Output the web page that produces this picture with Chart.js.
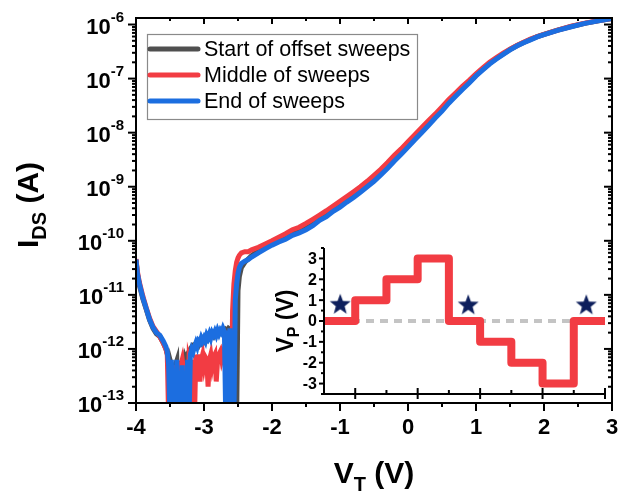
<!DOCTYPE html>
<html>
<head>
<meta charset="utf-8">
<script src="https://cdn.jsdelivr.net/npm/chart.js@4.4.1/dist/chart.umd.min.js"></script>
<style>
  body { margin: 0; background: #fff; }
  #wrap { position: relative; width: 621px; height: 493px; }
  #wrap canvas { position: absolute; left: 0; top: 0; }
</style>
</head>
<body>
<div id="wrap">
  <canvas id="mainChart" width="621" height="493"></canvas>
  <canvas id="insetChart" width="621" height="493"></canvas>
</div>
<script>
'use strict';

const FONT = "'Liberation Sans', Arial, sans-serif";

// gate voltage V_T (V), shared by the three sweeps
let vT = [
  -4.00, -3.98, -3.95, -3.90, -3.85, -3.80, -3.75, -3.70, -3.65, -3.60, -3.56,
  -3.54, -3.52, -3.50, -3.48, -3.46, -3.44, -3.42, -3.40, -3.38, -3.36, -3.34, -3.32, -3.30, -3.28, -3.26, -3.24, -3.22, -3.20,
  -3.18, -3.16, -3.14, -3.12, -3.10, -3.08, -3.06, -3.04, -3.02, -3.00, -2.98, -2.96, -2.94, -2.92, -2.90, -2.88, -2.86, -2.84,
  -2.82, -2.80, -2.78, -2.76, -2.74, -2.72, -2.70, -2.68, -2.66, -2.64, -2.62, -2.60, -2.58, -2.56, -2.54, -2.52, -2.50,
  -2.48, -2.45, -2.40, -2.35, -2.30, -2.2, -2.1, -2.0, -1.9, -1.8, -1.7, -1.6, -1.5, -1.4, -1.3, -1.2, -1.1, -1.0,
  -0.9, -0.8, -0.7, -0.6, -0.5, -0.4, -0.3, -0.2, -0.1, 0, 0.1, 0.2, 0.3, 0.4, 0.5, 0.6, 0.7, 0.8, 0.9, 1.0,
  1.1, 1.2, 1.3, 1.4, 1.5, 1.6, 1.7, 1.8, 1.9, 2.0, 2.2, 2.4, 2.6, 2.8, 3.0
];

// I_DS (A) for each sweep
let startSweep = [
  4.4e-11, 2.4e-11, 1.5e-11, 8.5e-12, 5.4e-12, 3.4e-12, 2.4e-12, 1.9e-12, 1.7e-12, 1.3e-12, 1.0e-12,
  8e-13, 6e-13, 5e-14, 5e-13, 4e-13, 5e-14, 5e-13, 6e-13, 5e-14, 4e-13, 6e-13, 5e-14, 5e-13, 7e-13, 6e-13, 8e-13, 9e-13, 1e-12,
  1.1e-12, 1e-12, 1.2e-12, 1.2e-12, 1.3e-12, 1.2e-12, 1.4e-12, 1.3e-12, 1.5e-12, 1.4e-12, 1.6e-12, 1.5e-12, 1.7e-12, 1.6e-12, 1.7e-12, 1.8e-12, 1.7e-12, 1.9e-12,
  1.8e-12, 2e-12, 1.9e-12, 2.1e-12, 2e-12, 2.2e-12, 2.1e-12, 2.3e-12, 2.2e-12, 2.4e-12, 2.3e-12, 2.4e-12, 2.3e-12, 2.5e-12, 2.4e-12, 5e-14, 1.2e-11,
  2.2e-11, 3.2e-11, 4e-11, 4.6e-11, 5.3e-11, 6.5e-11, 7.6e-11, 8.9e-11, 1.02e-10, 1.15e-10, 1.35e-10, 1.5e-10, 1.75e-10, 2.1e-10, 2.6e-10, 3.1e-10, 3.8e-10, 4.6e-10,
  5.7e-10, 6.9e-10, 8.6e-10, 1.08e-9, 1.38e-9, 1.8e-9, 2.4e-9, 3.3e-9, 4.4e-9, 5.9e-9, 8e-9, 1.08e-8, 1.45e-8, 1.98e-8, 2.7e-8, 3.7e-8, 5e-8, 6.7e-8, 8.7e-8, 1.16e-7,
  1.5e-7, 1.92e-7, 2.35e-7, 2.85e-7, 3.45e-7, 4.05e-7, 4.65e-7, 5.3e-7, 5.95e-7, 6.55e-7, 7.85e-7, 9.2e-7, 1.05e-6, 1.17e-6, 1.29e-6
];
let middleSweep = [
  4.6e-11, 2.7e-11, 1.7e-11, 9.5e-12, 5.8e-12, 3.7e-12, 2.6e-12, 2.1e-12, 1.7e-12, 1.3e-12, 1.0e-12,
  7.9e-13, 5e-14, 5e-13, 5e-14, 3.2e-13, 5e-13, 5e-14, 4e-13, 2.5e-13, 5e-14, 5e-13, 6.3e-13, 4e-13, 5e-14, 5e-13, 5e-14, 6.3e-13, 5e-13,
  5e-14, 6.3e-13, 5e-14, 7.9e-13, 5e-13, 7.9e-13, 2.5e-13, 6.3e-13, 7.9e-13, 5e-13, 7e-13, 6.3e-13, 2e-13, 6.3e-13, 7.9e-13, 5e-13, 7e-13, 7.9e-13,
  2.5e-13, 6.3e-13, 7.9e-13, 8.9e-13, 6.3e-13, 7.9e-13, 6.3e-13, 7.9e-13, 5e-14, 1e-12, 7.9e-13, 5e-14, 5e-12, 1.6e-11, 2.8e-11, 4e-11, 4.8e-11,
  5.4e-11, 6e-11, 6.3e-11, 6.3e-11, 6.8e-11, 7.6e-11, 8.7e-11, 1e-10, 1.17e-10, 1.35e-10, 1.6e-10, 1.78e-10, 2.1e-10, 2.5e-10, 3e-10, 3.6e-10, 4.4e-10, 5.4e-10,
  6.6e-10, 8.1e-10, 1e-9, 1.26e-9, 1.62e-9, 2.1e-9, 2.8e-9, 3.8e-9, 5e-9, 6.8e-9, 9.1e-9, 1.23e-8, 1.66e-8, 2.2e-8, 3e-8, 4.1e-8, 5.4e-8, 7.2e-8, 9.3e-8, 1.23e-7,
  1.58e-7, 2e-7, 2.45e-7, 2.95e-7, 3.5e-7, 4.1e-7, 4.7e-7, 5.4e-7, 6e-7, 6.6e-7, 7.9e-7, 9.3e-7, 1.06e-6, 1.18e-6, 1.3e-6
];
let endSweep = [
  4.5e-11, 2.5e-11, 1.6e-11, 8.9e-12, 5.6e-12, 3.5e-12, 2.5e-12, 2.0e-12, 1.8e-12, 1.4e-12, 1.1e-12,
  8.9e-13, 5e-13, 5e-14, 6.3e-13, 5e-14, 4e-13, 5e-14, 6.3e-13, 5e-14, 2.5e-13, 5e-14, 5e-13, 5e-14, 3.2e-13, 5e-14, 6.3e-13, 5e-14, 7.9e-13,
  1e-12, 8.9e-13, 1.1e-12, 1.3e-12, 1.1e-12, 1.4e-12, 1.3e-12, 1.6e-12, 1.4e-12, 1.6e-12, 1.4e-12, 1.8e-12, 1.6e-12, 1.9e-12, 1.6e-12, 2.0e-12, 1.8e-12, 2.1e-12,
  1.8e-12, 2.2e-12, 1.9e-12, 2.2e-12, 2.0e-12, 2.4e-12, 2.1e-12, 5e-14, 2.2e-12, 5e-14, 2.4e-12, 5e-14, 2.2e-12, 5e-14, 7.9e-12, 1.6e-11, 2.5e-11,
  3.2e-11, 3.8e-11, 4.2e-11, 4.5e-11, 5e-11, 6e-11, 7.1e-11, 8.3e-11, 9.5e-11, 1.07e-10, 1.26e-10, 1.4e-10, 1.6e-10, 1.9e-10, 2.4e-10, 2.8e-10, 3.5e-10, 4.2e-10,
  5.2e-10, 6.3e-10, 7.9e-10, 1.0e-9, 1.26e-9, 1.66e-9, 2.2e-9, 3.0e-9, 4.0e-9, 5.4e-9, 7.4e-9, 1.0e-8, 1.35e-8, 1.86e-8, 2.5e-8, 3.5e-8, 4.7e-8, 6.3e-8, 8.3e-8, 1.12e-7,
  1.45e-7, 1.86e-7, 2.3e-7, 2.8e-7, 3.4e-7, 4.0e-7, 4.6e-7, 5.2e-7, 5.9e-7, 6.5e-7, 7.8e-7, 9.1e-7, 1.05e-6, 1.17e-6, 1.29e-6
];

let seriesNames = ['Start of offset sweeps', 'Middle of sweeps', 'End of sweeps'];
let seriesColors = ['#4f4f4f', '#f23c43', '#1c6ee0'];

// axis ticks of the main plot
let xTicks = [-4, -3, -2, -1, 0, 1, 2, 3];
let yTickExps = [-13, -12, -11, -10, -9, -8, -7, -6];

// inset: offset pulse V_P (V) versus sweep step
let pulseStep = [0, 1, 2, 3, 4, 5, 6, 7, 8, 9];
let pulseV = [0, 1, 2, 3, 0, -1, -2, -3, 0, 0];
let zeroLineX = [0, 9];
let zeroLineY = [0, 0];
let starStep = [0.52, 4.62, 8.4];
let starV = [0.78, 0.75, 0.75];
let insetYTicks = [-3, -2, -1, 0, 1, 2, 3];

// pairs x and y arrays into points for a dataset
function toPoints(xs, ys){
  return xs.map((v, i) => ({x: v, y: ys[i]}));
}

// draws "base" plus a smaller lowered subscript, starting at x
function drawSub(ctx, x, y, base, sub, rest, size, subSize, drop){
  ctx.font = `bold ${size}px ${FONT}`;
  ctx.fillText(base, x, y);
  x += ctx.measureText(base).width;
  ctx.font = `bold ${subSize}px ${FONT}`;
  ctx.fillText(sub, x, y + drop);
  x += ctx.measureText(sub).width;
  ctx.font = `bold ${size}px ${FONT}`;
  ctx.fillText(rest, x, y);
}

function subWidth(ctx, base, sub, rest, size, subSize){
  ctx.font = `bold ${size}px ${FONT}`;
  let w = ctx.measureText(base).width + ctx.measureText(rest).width;
  ctx.font = `bold ${subSize}px ${FONT}`;
  return w + ctx.measureText(sub).width;
}

function line(ctx, x1, y1, x2, y2){
  ctx.beginPath();
  ctx.moveTo(x1, y1);
  ctx.lineTo(x2, y2);
  ctx.stroke();
}

// frame, ticks, tick labels and titles of the main plot
const mainAxes = {
  id: 'mainAxes',
  afterDraw(chart){
    const {ctx, chartArea: a, scales: {x, y}} = chart;
    ctx.save();
    ctx.strokeStyle = '#000';
    ctx.fillStyle = '#000';
    ctx.lineWidth = 2;
    ctx.strokeRect(a.left, a.top, a.right - a.left, a.bottom - a.top);

    // x ticks, minor every 0.5
    for(let v = x.min; v <= x.max; v += 0.5){
      let px = x.getPixelForValue(v);
      let major = Number.isInteger(v);
      line(ctx, px, a.bottom, px, a.bottom + (major ? 8 : 4));
      line(ctx, px, a.top, px, a.top + (major ? 6 : 3));
    }
    // y ticks, minor at 2..9 of each decade
    for(let n = -13; n <= -6; n++){
      for(let m = 1; m <= 9; m++){
        let v = m * Math.pow(10, n);
        if(v > y.max) break;
        let py = y.getPixelForValue(v);
        let len = m === 1 ? 8 : 4;
        line(ctx, a.left - len, py, a.left, py);
        line(ctx, a.right - len, py, a.right, py);
      }
    }

    ctx.textBaseline = 'middle';
    ctx.textAlign = 'center';
    ctx.font = `bold 22px ${FONT}`;
    for(let t of xTicks){
      ctx.fillText(String(t), x.getPixelForValue(t), a.bottom + 25);
    }

    ctx.textAlign = 'left';
    for(let n of yTickExps){
      let py = y.getPixelForValue(Math.pow(10, n));
      let exp = String(n);
      ctx.font = `bold 15px ${FONT}`;
      let ew = ctx.measureText(exp).width;
      ctx.font = `bold 22px ${FONT}`;
      let bw = ctx.measureText('10').width;
      let right = a.left - 12;
      ctx.fillText('10', right - ew - bw, py + 3);
      ctx.font = `bold 15px ${FONT}`;
      ctx.fillText(exp, right - ew, py - 7);
    }

    // x title V_T (V)
    ctx.textBaseline = 'alphabetic';
    let w = subWidth(ctx, 'V', 'T', ' (V)', 30, 20);
    drawSub(ctx, (a.left + a.right) / 2 - w / 2, 483, 'V', 'T', ' (V)', 30, 20, 8);

    // y title I_DS (A)
    ctx.save();
    ctx.translate(38, 205);
    ctx.rotate(-Math.PI / 2);
    w = subWidth(ctx, 'I', 'DS', ' (A)', 30, 20);
    drawSub(ctx, -w / 2, 0, 'I', 'DS', ' (A)', 30, 20, 8);
    ctx.restore();
    ctx.restore();
  }
};

// boxed legend in the top left of the plot
const boxLegend = {
  id: 'boxLegend',
  afterDraw(chart){
    const ctx = chart.ctx;
    ctx.save();
    ctx.strokeStyle = '#8a8a8a';
    ctx.lineWidth = 1.2;
    ctx.strokeRect(147.5, 34.5, 270, 85);
    ctx.font = `21.5px ${FONT}`;
    ctx.textBaseline = 'middle';
    ctx.fillStyle = '#000';
    ctx.lineCap = 'round';
    ctx.lineWidth = 5;
    for(let i = 0; i < seriesNames.length; i++){
      let rowY = 49 + i * 26;
      ctx.strokeStyle = seriesColors[i];
      line(ctx, 150, rowY, 198, rowY);
      ctx.fillText(seriesNames[i], 204, rowY + 1);
    }
    ctx.restore();
  }
};

// axes of the inset
const insetAxes = {
  id: 'insetAxes',
  afterDraw(chart){
    const {ctx, chartArea: a, scales: {x, y}} = chart;
    ctx.save();
    ctx.strokeStyle = '#000';
    ctx.fillStyle = '#000';
    ctx.lineWidth = 2;
    ctx.beginPath();
    ctx.moveTo(a.left, a.top);
    ctx.lineTo(a.left, a.bottom);
    ctx.lineTo(a.right, a.bottom);
    ctx.stroke();

    for(let v = y.min; v <= y.max; v += 0.5){
      let py = y.getPixelForValue(v);
      line(ctx, a.left - (Number.isInteger(v) ? 5 : 3), py, a.left, py);
    }
    for(let v = x.min; v <= x.max; v += 1){
      let px = x.getPixelForValue(v);
      if(v % 2 === 1){
        line(ctx, px, a.bottom - 6, px, a.bottom + 5);
      } else {
        line(ctx, px, a.bottom - 4, px, a.bottom);
      }
    }

    ctx.font = `bold 16px ${FONT}`;
    ctx.textAlign = 'right';
    ctx.textBaseline = 'middle';
    for(let t of insetYTicks){
      ctx.fillText(String(t), a.left - 7, y.getPixelForValue(t) + 1);
    }

    ctx.textAlign = 'left';
    ctx.textBaseline = 'alphabetic';
    ctx.translate(293, (a.top + a.bottom) / 2);
    ctx.rotate(-Math.PI / 2);
    let w = subWidth(ctx, 'V', 'P', ' (V)', 23, 16);
    drawSub(ctx, -w / 2, 0, 'V', 'P', ' (V)', 23, 16, 6);
    ctx.restore();
  }
};

// filled five point star used as the marker
function makeStar(color, r){
  let c = document.createElement('canvas');
  c.width = c.height = r * 2 + 2;
  let g = c.getContext('2d');
  g.fillStyle = color;
  g.beginPath();
  for(let i = 0; i < 10; i++){
    let rad = i % 2 === 0 ? r : r * 0.42;
    let ang = -Math.PI / 2 + i * Math.PI / 5;
    g.lineTo(r + 1 + rad * Math.cos(ang), r + 1 + rad * Math.sin(ang));
  }
  g.closePath();
  g.fill();
  return c;
}

let sweeps = [startSweep, middleSweep, endSweep];
let mainDatasets = [];
for(let i = 0; i < sweeps.length; i++){
  mainDatasets.push({
    label: seriesNames[i],
    data: toPoints(vT, sweeps[i]),
    borderColor: seriesColors[i],
    borderWidth: 5,
    pointRadius: 0,
    tension: 0,
    clip: 0,
    order: 3 - i
  });
}

new Chart(document.getElementById('mainChart'), {
  type: 'line',
  data: {datasets: mainDatasets},
  options: {
    responsive: false,
    animation: false,
    devicePixelRatio: 1,
    layout: {padding: {left: 136, right: 9, top: 18, bottom: 90}},
    scales: {
      x: {type: 'linear', min: -4, max: 3, display: false},
      y: {type: 'logarithmic', min: 1e-13, max: 1.32e-6, display: false}
    },
    plugins: {legend: {display: false}, tooltip: {enabled: false}}
  },
  plugins: [mainAxes, boxLegend]
});

new Chart(document.getElementById('insetChart'), {
  type: 'line',
  data: {
    datasets: [
      {
        data: toPoints(zeroLineX, zeroLineY),
        borderColor: '#c4c4c4',
        borderWidth: 4,
        borderDash: [8, 6],
        pointRadius: 0,
        order: 3
      },
      {
        data: toPoints(pulseStep, pulseV),
        borderColor: '#f23c43',
        borderWidth: 8,
        stepped: 'before',
        borderJoinStyle: 'round',
        pointRadius: 0,
        order: 2
      },
      {
        data: toPoints(starStep, starV),
        showLine: false,
        pointStyle: makeStar('#0d1f5c', 11),
        order: 1
      }
    ]
  },
  options: {
    responsive: false,
    animation: false,
    devicePixelRatio: 1,
    layout: {padding: {left: 324, right: 16, top: 248, bottom: 99}},
    scales: {
      x: {type: 'linear', min: 0, max: 9, display: false},
      y: {type: 'linear', min: -3.5, max: 3.5, display: false}
    },
    plugins: {legend: {display: false}, tooltip: {enabled: false}}
  },
  plugins: [insetAxes]
});
</script>
</body>
</html>
